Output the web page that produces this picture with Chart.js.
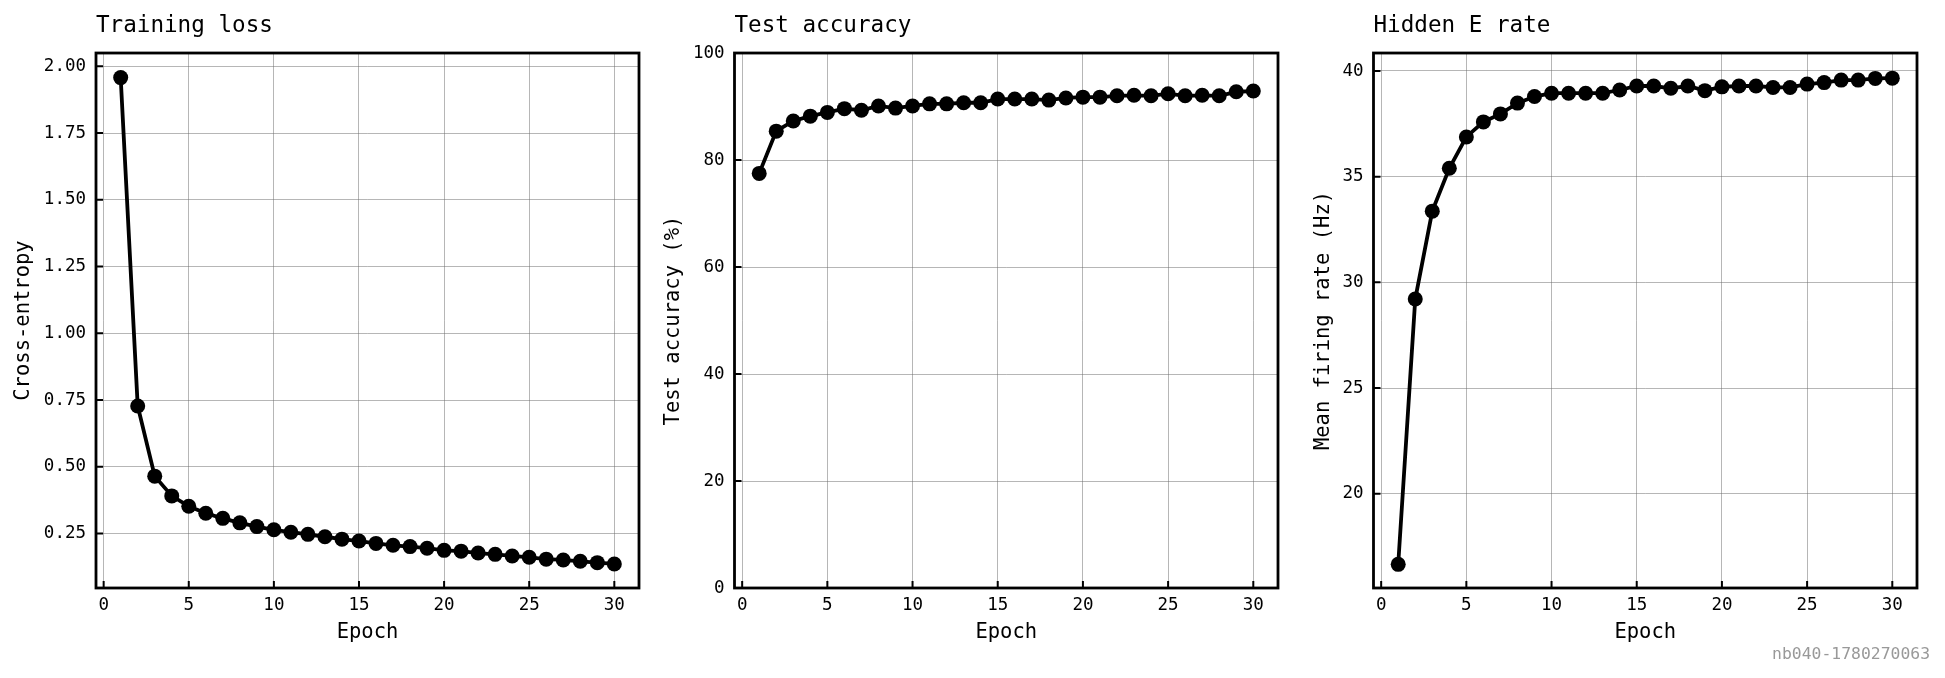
<!DOCTYPE html>
<html>
<head>
<meta charset="utf-8">
<script src="https://cdn.jsdelivr.net/npm/chart.js@4.4.1/dist/chart.umd.min.js"></script>
<style>
  body { margin: 0; background: #fff; }
  #wrap { position: relative; width: 1945px; height: 678px; }
  .panel { position: absolute; top: 0; height: 678px; }
  #stamp {
    position: absolute; right: 15px; top: 644px;
    font: 16.4px "DejaVu Sans Mono", monospace; color: #999; line-height: 20px;
  }
</style>
</head>
<body>
<div id="wrap">
  <div class="panel" style="left:0;width:660px"><canvas id="lossChart"></canvas></div>
  <div class="panel" style="left:660px;width:640px"><canvas id="accChart"></canvas></div>
  <div class="panel" style="left:1300px;width:645px"><canvas id="rateChart"></canvas></div>
  <div id="stamp">nb040-1780270063</div>
</div>
<script>
const epochs = [1, 2, 3, 4, 5, 6, 7, 8, 9, 10, 11, 12, 13, 14, 15,
                16, 17, 18, 19, 20, 21, 22, 23, 24, 25, 26, 27, 28, 29, 30];

const trainLoss = [1.958, 0.728, 0.465, 0.391, 0.352, 0.326, 0.307, 0.290, 0.276, 0.264,
                   0.255, 0.247, 0.238, 0.229, 0.222, 0.213, 0.206, 0.201, 0.195, 0.187,
                   0.184, 0.177, 0.172, 0.166, 0.161, 0.154, 0.151, 0.146, 0.141, 0.136];

const testAcc = [77.5, 85.4, 87.3, 88.2, 88.9, 89.6, 89.3, 90.1, 89.7, 90.1,
                 90.5, 90.5, 90.7, 90.7, 91.4, 91.4, 91.4, 91.2, 91.6, 91.75,
                 91.75, 92.0, 92.1, 92.0, 92.4, 92.0, 92.1, 92.0, 92.75, 92.9];

const hiddenRate = [16.66, 29.21, 33.37, 35.40, 36.88, 37.59, 37.97, 38.48, 38.79, 38.95,
                    38.95, 38.95, 38.95, 39.10, 39.29, 39.29, 39.18, 39.29, 39.07, 39.25,
                    39.29, 39.29, 39.22, 39.22, 39.38, 39.45, 39.57, 39.57, 39.65, 39.66];

const epochTicks = [0, 5, 10, 15, 20, 25, 30];
const lossTicks = [0.25, 0.5, 0.75, 1.0, 1.25, 1.5, 1.75, 2.0];
const accTicks = [0, 20, 40, 60, 80, 100];
const rateTicks = [20, 25, 30, 35, 40];

const FONT = '"DejaVu Sans Mono", monospace';

// box round the plot plus matplotlib style inward ticks on left and bottom
const framePlugin = {
  id: 'frame',
  afterDraw(chart) {
    const { ctx, chartArea: a, scales } = chart;
    ctx.save();
    ctx.strokeStyle = '#000';
    ctx.lineWidth = 2;
    ctx.beginPath();
    scales.x.ticks.forEach(t => {
      const px = scales.x.getPixelForValue(t.value);
      ctx.moveTo(px, a.bottom);
      ctx.lineTo(px, a.bottom - 7);
    });
    scales.y.ticks.forEach(t => {
      const py = scales.y.getPixelForValue(t.value);
      ctx.moveTo(a.left, py);
      ctx.lineTo(a.left + 7, py);
    });
    ctx.stroke();
    ctx.lineWidth = 2.8;
    ctx.strokeRect(a.left, a.top, a.right - a.left, a.bottom - a.top);
    ctx.restore();
  }
};

function makeChart(id, cfg) {
  const ctx = document.getElementById(id).getContext('2d');
  return new Chart(ctx, {
    type: 'line',
    data: {
      datasets: [{
        data: epochs.map((e, i) => ({ x: e, y: cfg.values[i] })),
        borderColor: '#000',
        backgroundColor: '#000',
        borderWidth: 3.8,
        pointRadius: 7.5,
        pointBorderWidth: 0,
        pointBackgroundColor: '#000',
        tension: 0
      }]
    },
    options: {
      responsive: true,
      maintainAspectRatio: false,
      animation: false,
      layout: { padding: { top: 0, left: 0, right: cfg.padRight, bottom: 0 } },
      plugins: {
        legend: { display: false },
        tooltip: { enabled: false },
        title: {
          display: true,
          text: cfg.title,
          align: 'start',
          fullSize: false,
          color: '#000',
          font: { family: FONT, size: 22.6, weight: 'normal' },
          padding: { top: 12.5, bottom: 13.4 }
        }
      },
      scales: {
        x: {
          type: 'linear',
          min: -0.45,
          max: 31.45,
          afterFit: s => { s.height = 90; },
          afterBuildTicks: s => { s.ticks = epochTicks.map(v => ({ value: v })); },
          grid: { color: 'rgba(110,110,110,0.5)', lineWidth: 1, drawTicks: false },
          border: { display: false },
          ticks: { color: '#000', padding: 7, font: { family: FONT, size: 17.5 } },
          title: {
            display: true, text: 'Epoch', color: '#000',
            font: { family: FONT, size: 20.5 },
            padding: { top: 0, bottom: 33 }
          }
        },
        y: {
          min: cfg.min,
          max: cfg.max,
          afterFit: s => { s.width = cfg.axisWidth; },
          afterBuildTicks: s => { s.ticks = cfg.ticks.map(v => ({ value: v })); },
          grid: { color: 'rgba(110,110,110,0.5)', lineWidth: 1, drawTicks: false },
          border: { display: false },
          ticks: {
            color: '#000', padding: 10,
            font: { family: FONT, size: 17.5 },
            callback: cfg.fmt
          },
          title: {
            display: true, text: cfg.yLabel, color: '#000',
            font: { family: FONT, size: 20.5 },
            padding: { top: cfg.titlePad, bottom: 0 }
          }
        }
      }
    },
    plugins: [framePlugin]
  });
}

makeChart('lossChart', {
  title: 'Training loss', yLabel: 'Cross-entropy', values: trainLoss,
  min: 0.046, max: 2.05, ticks: lossTicks, fmt: v => v.toFixed(2),
  axisWidth: 96, padRight: 21, titlePad: 11.5
});

makeChart('accChart', {
  title: 'Test accuracy', yLabel: 'Test accuracy (%)', values: testAcc,
  min: 0, max: 100, ticks: accTicks, fmt: v => String(v),
  axisWidth: 74.5, padRight: 22, titlePad: 1.5
});

makeChart('rateChart', {
  title: 'Hidden E rate', yLabel: 'Mean firing rate (Hz)', values: hiddenRate,
  min: 15.54, max: 40.85, ticks: rateTicks, fmt: v => String(v),
  axisWidth: 73.5, padRight: 28, titlePad: 11.5
});
</script>
</body>
</html>
